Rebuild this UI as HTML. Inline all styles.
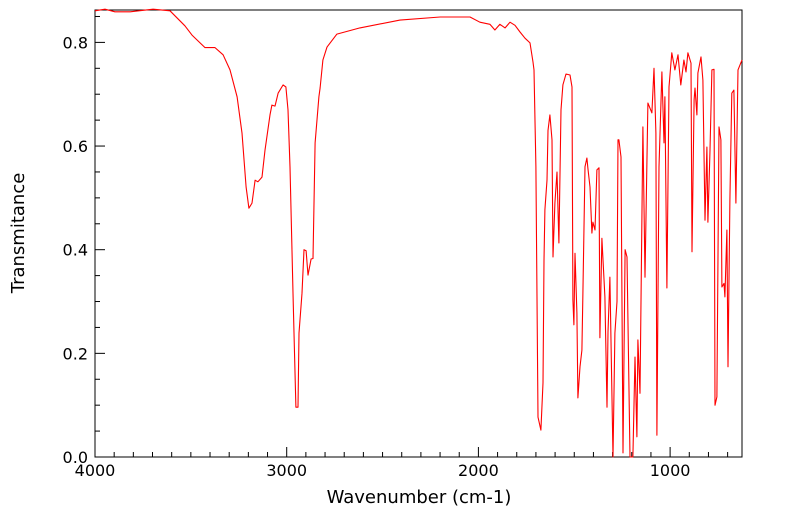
<!DOCTYPE html>
<html><head><meta charset="utf-8"><style>
html,body{margin:0;padding:0;background:#fff;}
svg{display:block;font-family:"DejaVu Sans","Liberation Sans",sans-serif;}
</style></head><body>
<svg id="chart" width="799" height="516" viewBox="0 0 799 516"></svg>
<script>
const wavenumbers=[4000,3948,3896,3817,3697,3609,3531,3494,3426,3374,3332,3296,3259,3233,3212,3197,3181,3165,3150,3129,3113,3087,3077,3061,3045,3019,3004,2993,2983,2967,2962,2952,2941,2936,2920,2910,2899,2889,2873,2863,2852,2832,2826,2811,2790,2738,2618,2409,2200,2044,1992,1940,1914,1888,1861,1835,1809,1783,1757,1731,1715,1710,1700,1689,1674,1663,1658,1653,1642,1637,1627,1616,1611,1601,1590,1580,1569,1559,1543,1522,1512,1507,1502,1496,1486,1481,1470,1460,1455,1444,1434,1429,1418,1408,1403,1392,1382,1371,1366,1356,1340,1329,1324,1314,1298,1288,1277,1272,1267,1256,1246,1235,1225,1209,1194,1183,1173,1168,1157,1142,1131,1116,1095,1084,1074,1069,1058,1043,1032,1027,1017,1006,991,975,959,944,928,917,907,891,886,875,870,860,855,839,829,818,808,803,792,782,771,766,756,745,735,730,719,714,704,698,688,678,667,657,646,636,625];
const transmittance=[0.861,0.864,0.859,0.859,0.864,0.861,0.832,0.814,0.790,0.790,0.776,0.747,0.695,0.625,0.521,0.480,0.490,0.534,0.531,0.540,0.592,0.660,0.679,0.677,0.702,0.718,0.714,0.670,0.560,0.316,0.239,0.096,0.096,0.239,0.316,0.400,0.398,0.351,0.382,0.383,0.606,0.695,0.712,0.766,0.791,0.816,0.828,0.843,0.849,0.849,0.839,0.835,0.824,0.835,0.828,0.839,0.833,0.820,0.808,0.799,0.762,0.747,0.560,0.077,0.052,0.143,0.380,0.477,0.534,0.630,0.660,0.612,0.386,0.490,0.550,0.413,0.670,0.718,0.739,0.737,0.714,0.303,0.255,0.393,0.278,0.114,0.174,0.206,0.316,0.560,0.577,0.557,0.521,0.432,0.453,0.438,0.554,0.558,0.230,0.422,0.309,0.096,0.241,0.347,0.000,0.239,0.300,0.612,0.612,0.579,0.008,0.400,0.386,0.000,0.000,0.193,0.039,0.226,0.123,0.637,0.347,0.683,0.664,0.750,0.625,0.042,0.560,0.743,0.606,0.695,0.326,0.714,0.780,0.747,0.776,0.718,0.766,0.743,0.780,0.760,0.396,0.689,0.712,0.660,0.741,0.772,0.727,0.457,0.598,0.453,0.592,0.747,0.748,0.100,0.116,0.637,0.612,0.328,0.335,0.309,0.438,0.174,0.496,0.702,0.708,0.490,0.747,0.756,0.766];
const xTicks=[4000,3000,2000,1000];
const yTicks=[0,0.2,0.4,0.6,0.8];
const yTickLabels=["0.0","0.2","0.4","0.6","0.8"];

const L=95,R=742,T=10,B=457;
const xMax=4000,xMin=625,yMin=0,yMax=0.8625;
const sx=w=>L+(xMax-w)/(xMax-xMin)*(R-L);
const sy=v=>B-(v-yMin)/(yMax-yMin)*(B-T);
const NS="http://www.w3.org/2000/svg";
const svg=document.getElementById('chart');
function mk(tag,attrs){const e=document.createElementNS(NS,tag);for(const k in attrs)e.setAttribute(k,attrs[k]);svg.appendChild(e);return e;}

const frame=mk('rect',{x:L,y:T,width:R-L,height:B-T,fill:'none',stroke:'#000','stroke-width':1});



for(let w=4000;w>=xMin;w-=100){
  const major=w%1000===0;
  const t=mk('line',{x1:sx(w),x2:sx(w),y1:B,y2:B-(major?10:5),stroke:'#000','stroke-width':1});
  
  
}
xTicks.forEach(w=>{
  const t=mk('text',{x:sx(w),y:B+19,'text-anchor':'middle','font-size':16,fill:'#000'});
  t.textContent=w;
  
  
});
for(let k=0;k<=17;k++){
  const v=k*0.05;
  const major=k%4===0;
  const t=mk('line',{x1:L,x2:L+(major?10:5),y1:sy(v),y2:sy(v),stroke:'#000','stroke-width':1});
  
  
}
yTicks.forEach((v,i)=>{
  const t=mk('text',{x:L-7,y:sy(v)+6,'text-anchor':'end','font-size':16,fill:'#000'});
  t.textContent=yTickLabels[i];
  
  
});
const xt=mk('text',{x:419,y:503,'text-anchor':'middle','font-size':18,fill:'#000'});
xt.textContent='Wavenumber (cm-1)';


const yt=mk('text',{x:24,y:233,'text-anchor':'middle','font-size':18,fill:'#000',transform:'rotate(-90 24 233)'});
yt.textContent='Transmitance';



const d=wavenumbers.map((w,i)=>(i?'L':'M')+sx(w).toFixed(1)+' '+sy(transmittance[i]).toFixed(1)).join(' ');
const line=mk('path',{d:d,fill:'none',stroke:'#ff0000','stroke-width':1.1,'stroke-linejoin':'round'});


</script>
</body></html>
